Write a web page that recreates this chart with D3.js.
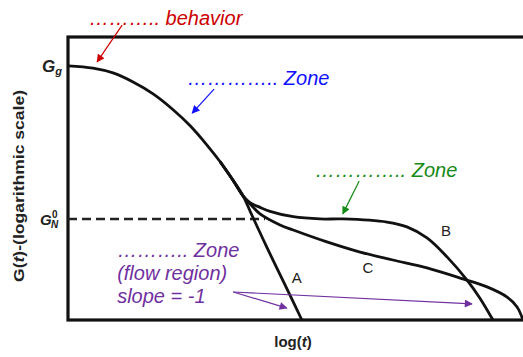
<!DOCTYPE html>
<html>
<head>
<meta charset="utf-8">
<script src="https://cdn.jsdelivr.net/npm/d3@7"></script>
<style>
  body { margin: 0; background: #fff; }
  text { font-family: "Liberation Sans", Arial, sans-serif; }
</style>
</head>
<body>
<svg id="chart" width="523" height="357"></svg>
<script>
// relaxation modulus curves, in arbitrary log units (0-10 on both axes)
var mainCurve = [[0, 8.98], [0.55, 8.90], [0.99, 8.73], [1.43, 8.41], [1.87, 7.99], [2.31, 7.43],
  [2.68, 6.87], [3.05, 6.19], [3.34, 5.60], [3.63, 4.93], [3.85, 4.38]];
var curveA = [[3.85, 4.38], [4.04, 3.71], [4.40, 2.47], [4.77, 1.24], [5.14, 0]];
var curveB = [[3.85, 4.38], [4.0, 4.15], [4.22, 3.98], [4.44, 3.84], [4.95, 3.65], [5.54, 3.57],
  [6.04, 3.57], [7.01, 3.46], [7.45, 3.29], [7.89, 2.90], [8.33, 2.23], [8.77, 1.41], [9.05, 0.78], [9.34, 0]];
var curveC = [[3.85, 4.38], [4.04, 4.04], [4.22, 3.75], [4.66, 3.36], [4.95, 3.18], [5.69, 2.76],
  [6.42, 2.40], [7.14, 2.12], [7.89, 1.84], [8.62, 1.48], [9.21, 1.17], [9.65, 0.81], [9.87, 0.46], [10.0, 0]];
var gGlassy = 8.98, gPlateau = 3.57, plateauEnd = 4.33;

var curveLabels = [{t: "A", u: 5.03, v: 1.31}, {t: "B", u: 8.31, v: 2.97}, {t: "C", u: 6.59, v: 1.66}];

// annotations: text lines and arrows (from -> to)
var notes = [
  {lines: ["……….. behavior"], u: 0.46, v: 10.42, color: "#cc0000"},
  {lines: ["………….. Zone"], u: 2.62, v: 8.30, color: "#1010ff"},
  {lines: ["………….. Zone"], u: 5.43, v: 5.05, color: "#168a16"},
  {lines: ["……….. Zone", "(flow region)", "slope = -1"], u: 1.08, v: 2.23, color: "#7030a0"}
];
var arrows = [
  {from: [1.19, 10.42], to: [0.64, 9.12], color: "#cc0000"},
  {from: [3.21, 8.16], to: [2.73, 7.31], color: "#1010ff"},
  {from: [6.40, 4.91], to: [6.04, 3.75], color: "#168a16"},
  {from: [3.63, 0.99], to: [4.81, 0.42], color: "#7030a0"},
  {from: [3.63, 0.99], to: [8.88, 0.57], color: "#7030a0"}
];

var svg = d3.select("#chart"),
  margin = {top: 37, right: 0, bottom: 37, left: 68},
  width = +svg.attr("width") - margin.left - margin.right,
  height = +svg.attr("height") - margin.top - margin.bottom;

var x = d3.scaleLinear().domain([0, 10]).range([margin.left, margin.left + width]);
var y = d3.scaleLinear().domain([0, 10]).range([margin.top + height, margin.top]);

var line = d3.line()
  .x(function(d) { return x(d[0]); })
  .y(function(d) { return y(d[1]); })
  .curve(d3.curveCatmullRom.alpha(0.5));

// arrow markers, one per colour
var defs = svg.append("defs");
var colors = d3.groups(arrows, function(d) { return d.color; }).map(function(g) { return g[0]; });
colors.forEach(function(c, i) {
  defs.append("marker")
    .attr("id", "arr" + i)
    .attr("markerUnits", "userSpaceOnUse")
    .attr("viewBox", "0 0 10 10")
    .attr("refX", 9).attr("refY", 5)
    .attr("markerWidth", 10).attr("markerHeight", 8)
    .attr("orient", "auto")
    .append("path").attr("d", "M0,0L10,5L0,10Z").attr("fill", c);
});

// frame
svg.append("rect")
  .attr("x", x(0)).attr("y", y(10))
  .attr("width", x(10) - x(0) + 3).attr("height", y(0) - y(10))
  .attr("fill", "none").attr("stroke", "#111").attr("stroke-width", 3.2);

// plateau modulus dashed line
svg.append("line")
  .attr("x1", x(0)).attr("x2", x(plateauEnd))
  .attr("y1", y(gPlateau)).attr("y2", y(gPlateau))
  .attr("stroke", "#222").attr("stroke-width", 2.4)
  .attr("stroke-dasharray", "9,5");

// curves
svg.append("path").datum(mainCurve.concat(curveA.slice(1)))
  .attr("d", line).attr("fill", "none").attr("stroke", "#111").attr("stroke-width", 2.8)
  .attr("stroke-linejoin", "round");
[curveB, curveC].forEach(function(c) {
  svg.append("path").datum(mainCurve.slice(-3, -1).concat(c))
    .attr("d", line).attr("fill", "none").attr("stroke", "#111").attr("stroke-width", 2.8);
});

svg.selectAll(".clabel").data(curveLabels).enter().append("text")
  .attr("class", "clabel")
  .attr("x", function(d) { return x(d.u); })
  .attr("y", function(d) { return y(d.v); })
  .attr("text-anchor", "middle")
  .attr("font-size", 15).attr("fill", "#222")
  .text(function(d) { return d.t; });

// y tick labels G_g and G_N^0
var gg = svg.append("text").attr("x", 62).attr("y", y(gGlassy) + 6)
  .attr("text-anchor", "end").attr("font-weight", "bold").attr("font-style", "italic").attr("fill", "#222");
gg.append("tspan").attr("font-size", 17).text("G");
gg.append("tspan").attr("font-size", 11).attr("dy", 3).text("g");

var gn = svg.append("g").attr("fill", "#222").attr("font-weight", "bold").attr("font-style", "italic");
gn.append("text").attr("x", 40).attr("y", y(gPlateau) + 6).attr("font-size", 15).text("G");
gn.append("text").attr("x", 51).attr("y", y(gPlateau) + 9).attr("font-size", 10).text("N");
gn.append("text").attr("x", 52).attr("y", y(gPlateau) - 1).attr("font-size", 10).attr("font-style", "normal").text("0");

// axis titles
var xt = svg.append("text").attr("x", 293).attr("y", 347)
  .attr("text-anchor", "middle").attr("font-size", 15).attr("font-weight", "bold").attr("fill", "#222");
xt.append("tspan").text("log(");
xt.append("tspan").attr("font-style", "italic").text("t");
xt.append("tspan").text(")");

var yt = svg.append("text")
  .attr("transform", "translate(24,186) rotate(-90)")
  .attr("text-anchor", "middle").attr("font-size", 14).attr("font-weight", "bold").attr("fill", "#222")
  .attr("textLength", 192).attr("lengthAdjust", "spacingAndGlyphs");
yt.append("tspan").text("G(");
yt.append("tspan").attr("font-style", "italic").text("t");
yt.append("tspan").text(")-(logarithmic scale)");

// annotations
notes.forEach(function(n) {
  var t = svg.append("text")
    .attr("x", x(n.u)).attr("y", y(n.v))
    .attr("font-size", 20).attr("font-style", "italic").attr("fill", n.color);
  n.lines.forEach(function(l, i) {
    t.append("tspan").attr("x", x(n.u)).attr("dy", i ? 23 : 0).text(l);
  });
});

svg.selectAll(".arrow").data(arrows).enter().append("line")
  .attr("class", "arrow")
  .attr("x1", function(d) { return x(d.from[0]); })
  .attr("y1", function(d) { return y(d.from[1]); })
  .attr("x2", function(d) { return x(d.to[0]); })
  .attr("y2", function(d) { return y(d.to[1]); })
  .attr("stroke", function(d) { return d.color; })
  .attr("stroke-width", 1.2)
  .attr("marker-end", function(d) { return "url(#arr" + colors.indexOf(d.color) + ")"; });
</script>
</body>
</html>
